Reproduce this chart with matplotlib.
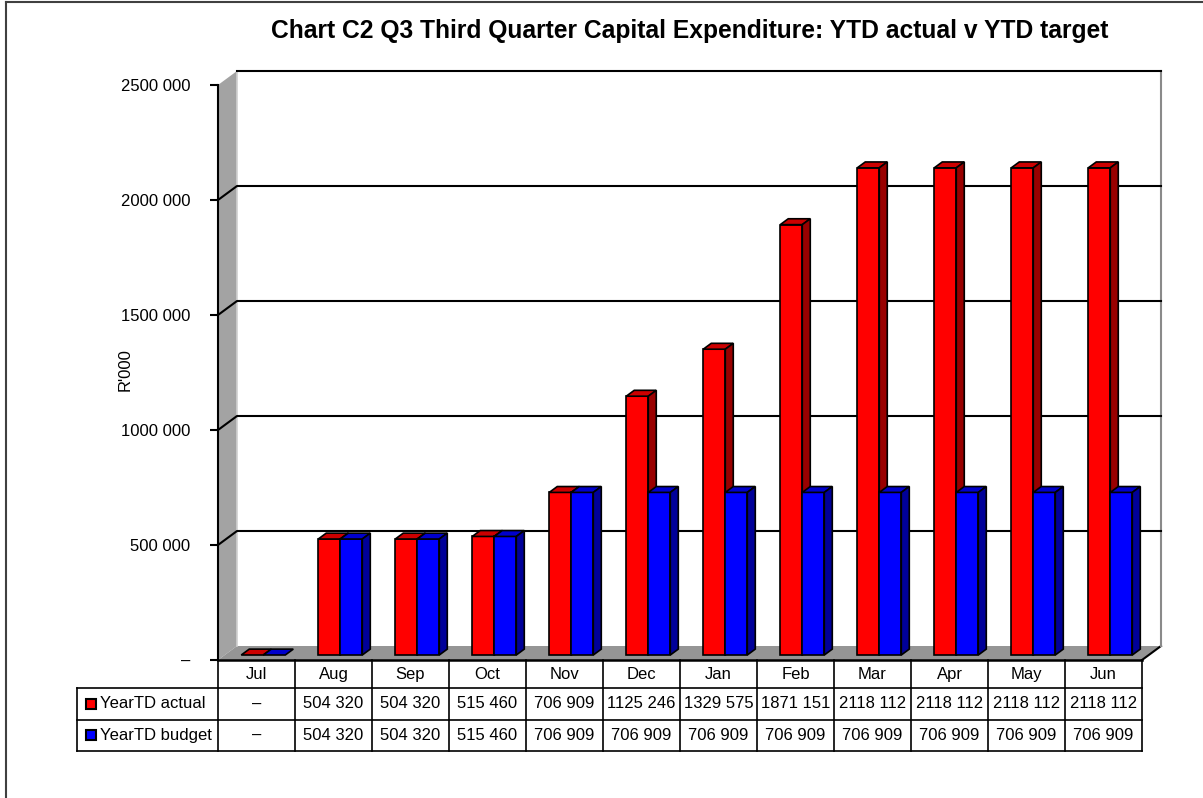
import matplotlib
matplotlib.use("Agg")
import matplotlib.pyplot as plt
from matplotlib.patches import Polygon, Rectangle
from matplotlib.lines import Line2D
from matplotlib import font_manager

months = ["Jul", "Aug", "Sep", "Oct", "Nov", "Dec", "Jan", "Feb", "Mar", "Apr", "May", "Jun"]
ytd_actual = [0, 504320, 504320, 515460, 706909, 1125246, 1329575, 1871151, 2118112, 2118112, 2118112, 2118112]
ytd_budget = [0, 504320, 504320, 515460, 706909, 706909, 706909, 706909, 706909, 706909, 706909, 706909]
series_names = ["YearTD actual", "YearTD budget"]
yticks = [0, 500000, 1000000, 1500000, 2000000, 2500000]
ytick_labels = ["–", "500 000", "1000 000", "1500 000", "2000 000", "2500 000"]
title = "Chart C2 Q3 Third Quarter Capital Expenditure: YTD actual v YTD target"
ylabel = "R'000"

names = {f.name for f in font_manager.fontManager.ttflist}
NARROW = "Liberation Sans Narrow" in names
if NARROW:
    FONT = ["Liberation Sans Narrow", "DejaVu Sans"]
    FS = 14
else:
    FONT = ["Liberation Sans", "DejaVu Sans"]
    FS = 12
plt.rcParams["font.family"] = FONT

W, H = 1203, 798
fig = plt.figure(figsize=(W / 100, H / 100), dpi=100)
fig.patch.set_facecolor("white")


def rect(l, t, r, b):
    return [l / W, 1 - b / H, (r - l) / W, (b - t) / H]


def fmt(v):
    if v == 0:
        return "–"
    return f"{v // 1000} {v % 1000:03d}"


YMAX = 2500000
ax = fig.add_axes(rect(218, 85, 1142, 660))
ax.set_xlim(-0.5, 11.5)
ax.set_ylim(0, YMAX)
for s in ["top", "right", "bottom"]:
    ax.spines[s].set_visible(False)
ax.spines["left"].set_color("black")
ax.spines["left"].set_linewidth(1.5)
ax.spines["left"].set_zorder(20)
ax.set_xticks([])
ax.set_yticks(yticks)
ax.set_yticklabels(ytick_labels, fontsize=FS)
ax.tick_params(axis="y", direction="out", length=6, width=1.5, pad=14, colors="black")
ax.set_facecolor("none")
ax.text(-0.5 - 93 / 77, YMAX * (1 - 285 / 575), ylabel, rotation=90, ha="center",
        va="center", fontsize=FS)

# depth offsets (in data units)
DX = 19 / 77
DY = 14 / 575 * YMAX
x0, x1 = -0.5, 11.5

# side wall
ax.add_patch(Polygon([(x0, 0), (x0 + DX, DY), (x0 + DX, YMAX + DY), (x0, YMAX)],
                     closed=True, facecolor="#A3A3A3", edgecolor="none", zorder=1, clip_on=False))
ax.plot([x0 + DX, x0 + DX], [DY, YMAX + DY], color="#D0D0D0", lw=1.2, zorder=2, clip_on=False)
# floor
ax.add_patch(Polygon([(x0, 0), (x1, 0), (x1 + DX, DY), (x0 + DX, DY)],
                     closed=True, facecolor="#959595", edgecolor="none", zorder=1, clip_on=False))
ax.plot([x1, x1 + DX], [0, DY], color="black", lw=1.5, zorder=2, clip_on=False)
# back wall right edge
ax.plot([x1 + DX, x1 + DX], [DY, YMAX + DY], color="#8A8A8A", lw=1.5, zorder=2, clip_on=False)
# gridlines
for v in yticks[1:]:
    if v < YMAX:
        ax.plot([x0, x0 + DX, x1 + DX], [v, v + DY, v + DY], color="black", lw=1.5,
                zorder=3, clip_on=False)
    else:
        ax.plot([x0 + DX, x1 + DX], [v + DY, v + DY], color="black", lw=1.5,
                zorder=3, clip_on=False)

# bars
BW = 0.286
F0 = 0.357
BD = 0.42
styles = [("#FF0000", "#CC0000", "#990000"), ("#0000FF", "#0000CC", "#000099")]
z = 5
for i in range(len(months)):
    for k, vals in enumerate([ytd_actual, ytd_budget]):
        front, topc, sidec = styles[k]
        xl = i - BW + k * BW + F0 * DX
        xr = xl + BW
        b = F0 * DY
        v = vals[i]
        t = b + v
        if v > 0:
            ax.bar(xl, v, width=BW, bottom=b, align="edge", color=front,
                   edgecolor="black", linewidth=1.2, zorder=z, clip_on=False)
        ax.add_patch(Polygon([(xl, t), (xr, t), (xr + BD * DX, t + BD * DY), (xl + BD * DX, t + BD * DY)],
                             closed=True, facecolor=topc, edgecolor="black", lw=1.2,
                             zorder=z + 1, clip_on=False))
        if v > 0:
            ax.add_patch(Polygon([(xr, b), (xr + BD * DX, b + BD * DY), (xr + BD * DX, t + BD * DY), (xr, t)],
                                 closed=True, facecolor=sidec, edgecolor="black", lw=1.2,
                                 zorder=z + 1, clip_on=False))
        z += 2

# data table
tb = fig.add_axes(rect(218, 660, 1142, 751))
tb.set_xlim(-0.5, 11.5)
tb.set_ylim(-91, 0)
tb.axis("off")
LX = -0.5 - 141 / 77
rows_y = [0, -28, -59.5, -91]
lk = dict(color="black", lw=1.2, clip_on=False)
tb.plot([x0, x1], [0, 0], color="black", lw=1.8, clip_on=False)
for yy in rows_y[1:]:
    tb.plot([LX, x1], [yy, yy], **lk)
for i in range(len(months) + 1):
    tb.plot([i - 0.5, i - 0.5], [0, -91], **lk)
tb.plot([LX, LX], [-28, -91], **lk)
for i, m in enumerate(months):
    tb.text(i, -14.5, m, ha="center", va="center", fontsize=FS)
    tb.text(i, -44, fmt(ytd_actual[i]), ha="center", va="center", fontsize=FS)
    tb.text(i, -75.5, fmt(ytd_budget[i]), ha="center", va="center", fontsize=FS)
for k, name in enumerate(series_names):
    yc = (rows_y[k + 1] + rows_y[k + 2]) / 2
    tb.add_patch(Rectangle((LX + 9 / 77, yc - 5), 10 / 77, 10, facecolor=styles[k][0],
                           edgecolor="black", lw=1.5, clip_on=False))
    tb.text(LX + 23 / 77, yc, name, ha="left", va="center", fontsize=FS)

fig.text(690 / W, 1 - 31 / H, title, ha="center", va="center",
         fontsize=(17 if NARROW else 17.7), fontweight="bold")

# figure border (left and top)
fig.add_artist(Line2D([5.5 / W, 5.5 / W], [0, 1 - 1.5 / H], color="#404040", lw=1.5))
fig.add_artist(Line2D([5.5 / W, 1], [1 - 1.5 / H, 1 - 1.5 / H], color="#404040", lw=1.5))

fig.savefig("out.png", dpi=100)
